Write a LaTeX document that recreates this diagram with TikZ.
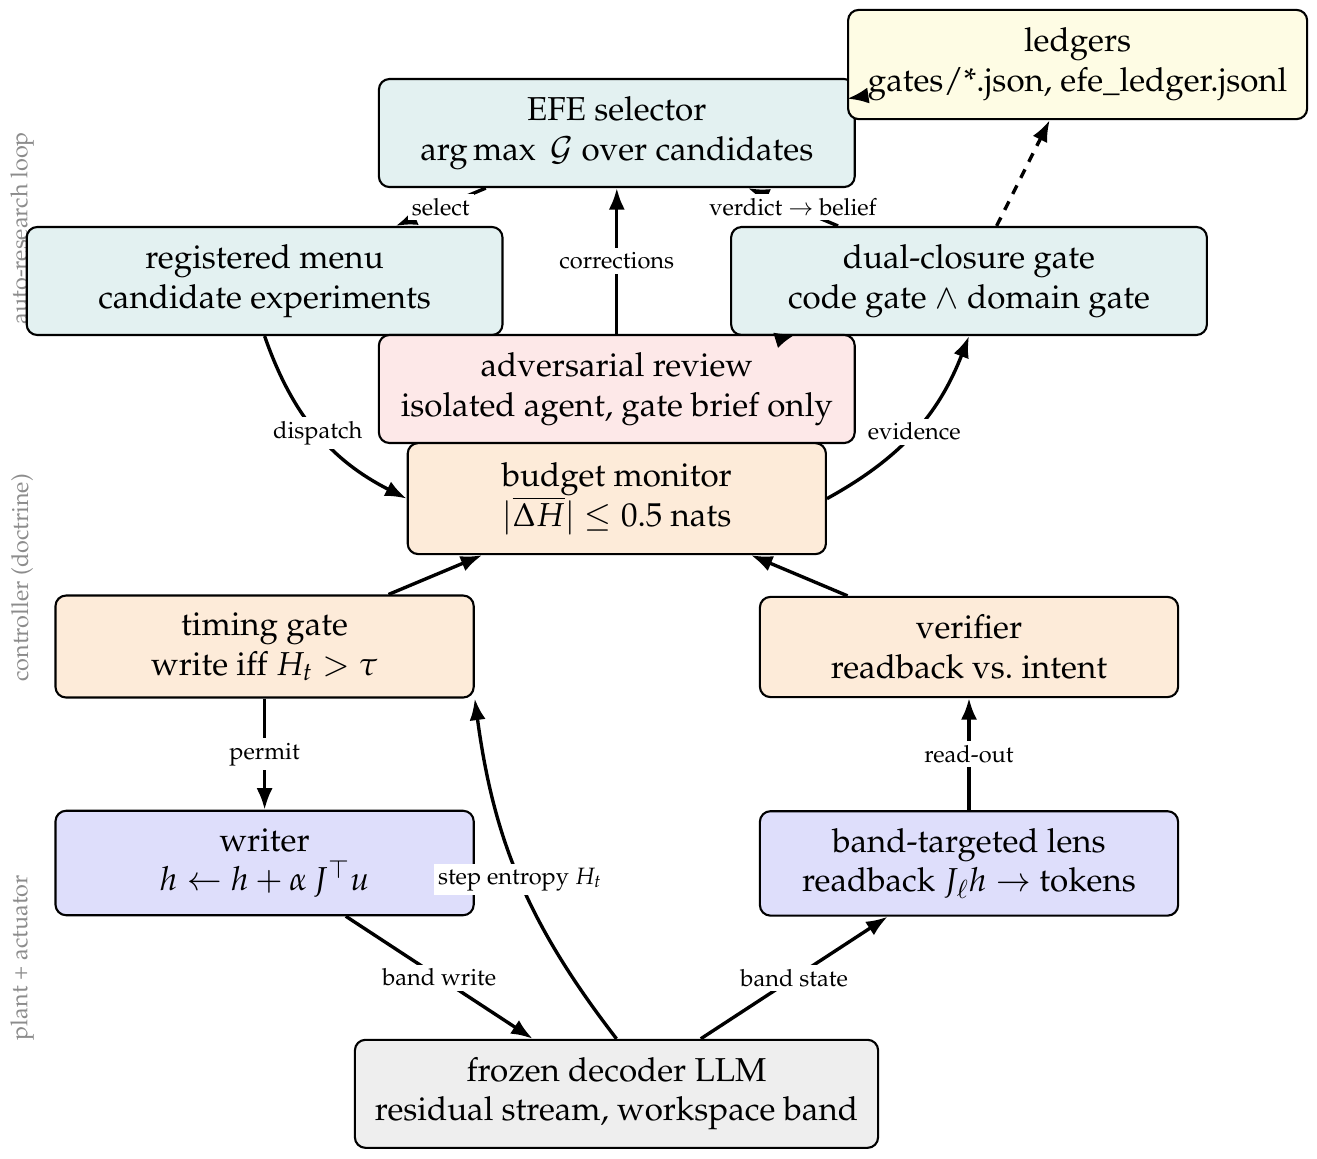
\documentclass[tikz,border=0pt]{standalone}
\usepackage[T1]{fontenc}
\usepackage{mathpazo}
\usepackage{amsmath}
\usepackage{tikz}
\usetikzlibrary{arrows.meta}
\definecolor{loopc}{HTML}{E3F1F1}
\definecolor{ledgerc}{HTML}{FEFCE4}
\definecolor{reviewc}{HTML}{FDE8E8}
\definecolor{ctrlc}{HTML}{FDEBD9}
\definecolor{plantc}{HTML}{DEDEFB}
\definecolor{llmc}{HTML}{EEEEEE}
\colorlet{bandtext}{black!45}
\tikzstyle{stage} = [
    draw,
    rounded corners=5pt,
    line width=1pt,
    align=center,
    inner xsep=8pt,
    font=\fontsize{15.7}{18.8}\selectfont
    ]
\tikzstyle{loopbox} = [stage, fill=loopc, minimum width=7.93cm, minimum height=1.8cm]
\tikzstyle{ctrlbox} = [stage, fill=ctrlc, minimum width=6.97cm, minimum height=1.7cm]
\tikzstyle{plantbox} = [stage, fill=plantc, minimum width=6.97cm, minimum height=1.74cm]
\tikzstyle{flow} = [-{Latex}, line width=1.6pt]
\tikzstyle{lbl} = [fill=white, inner sep=2pt, font=\fontsize{11.2}{13}\selectfont]
\tikzstyle{layer} = [rotate=90, text=bandtext, font=\fontsize{11.1}{13}\selectfont]

\begin{document}
\begin{tikzpicture}
\useasboundingbox (0,0) rectangle (21.95,-19.3);

% layer names
\node[layer] (lloop) at (0.37,-3.8) {auto-research loop};
\node[layer] (lctrl) at (0.37,-9.63) {controller (doctrine)};
\node[layer] (lplant) at (0.37,-15.96) {plant + actuator};

% auto-research loop
\node[loopbox] (efe) at (10.28,-2.217) {EFE selector\\ $\arg\max\ \mathcal{G}$ over candidates};
\node[stage, fill=ledgerc, minimum width=7.65cm, minimum height=1.82cm] (ledgers) at (17.96,-1.075)
    {ledgers\\ gates/*.json, efe\_ledger.jsonl};
\node[loopbox] (menu) at (4.41,-4.683) {registered menu\\ candidate experiments};
\node[loopbox] (dual) at (16.15,-4.683) {dual-closure gate\\ code gate $\wedge$ domain gate};
\node[loopbox, fill=reviewc] (adv) at (10.28,-6.483) {adversarial review\\ isolated agent, gate brief only};

% controller
\node[ctrlbox, minimum height=1.85cm] (budget) at (10.28,-8.31) {budget monitor\\ $|\overline{\Delta H}| \le 0.5$ nats};
\node[ctrlbox] (timing) at (4.41,-10.775) {timing gate\\ write iff $H_t > \tau$};
\node[ctrlbox, minimum height=1.67cm] (verifier) at (16.15,-10.783) {verifier\\ readback vs.\ intent};

% plant + actuator
\node[plantbox] (writer) at (4.41,-14.383) {writer\\ $h \leftarrow h + \alpha\, J^\top u$};
\node[plantbox] (lens) at (16.15,-14.39) {band-targeted lens\\ readback $J_\ell h \to$ tokens};
\node[stage, fill=llmc, minimum width=8.72cm, minimum height=1.8cm] (llm) at (10.275,-18.23)
    {frozen decoder LLM\\ residual stream, workspace band};

% connectors
\draw[flow] (efe) -- node[lbl] {select} (menu);
\draw[flow] (dual) -- node[lbl] {verdict $\to$ belief} (efe);
\draw[flow] (adv) -- node[lbl] {corrections} (efe);
\draw[flow, dash pattern=on 4.5pt off 4pt] (dual) -- (ledgers);
\draw[flow] (efe) -- (ledgers);
\draw[flow] (dual) -- (adv);
\draw[flow] (menu.south) to[bend right=22] node[lbl] {dispatch} (budget.west);
\draw[flow] (budget.east) to[bend right=20] node[lbl] {evidence} (dual.south);
\draw[flow] (timing) -- (budget);
\draw[flow] (verifier) -- (budget);
\draw[flow] (timing) -- node[lbl] {permit} (writer);
\draw[flow] (lens) -- node[lbl] {read-out} (verifier);
\draw[flow] (writer) -- node[lbl] {band write} (llm);
\draw[flow] (llm) -- node[lbl] {band state} (lens);
\draw[flow] (llm.north) to[bend left=15] node[lbl] {step entropy $H_t$} (timing.south east);
\end{tikzpicture}
\end{document}
